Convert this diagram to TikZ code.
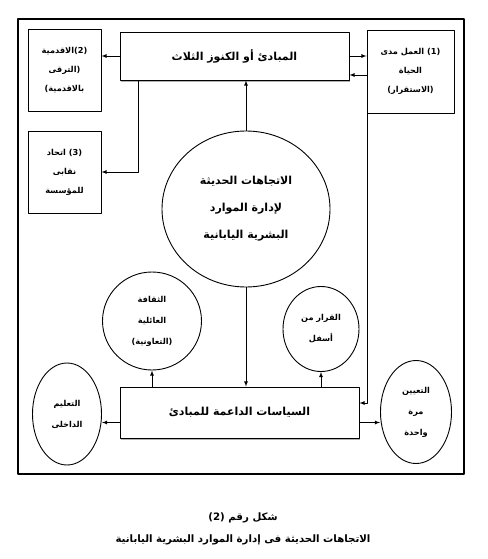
\documentclass[tikz,border=0pt]{standalone}
\usepackage{fontspec}
\usetikzlibrary{shapes.geometric,shadows}
\newfontfamily\arabicfont[Script=Arabic]{DejaVu Sans}
\TeXXeTstate=1
\newcommand{\rl}[1]{\beginR #1\endR}

\begin{document}
\begin{tikzpicture}[x=1pt,y=-1pt,line join=round,>=latex,
    box/.style={draw,line width=0.9pt,inner sep=2pt,align=center,
      font=\arabicfont\bfseries\fontsize{8.2}{19}\selectfont},
    bigbox/.style={box,fill=white,font=\arabicfont\bfseries\fontsize{11}{14}\selectfont,
      drop shadow={shadow xshift=0.6pt,shadow yshift=-1.8pt,fill=black!60}},
    bubble/.style={draw,ellipse,line width=0.9pt,inner sep=0pt,align=center,
      font=\arabicfont\bfseries\fontsize{8.2}{21}\selectfont},
    caption/.style={font=\arabicfont\bfseries\fontsize{10.2}{12}\selectfont},
    arrow/.style={->,line width=0.8pt}]
  \useasboundingbox (0,0) rectangle (487,559);
  \draw[line width=1.1pt] (18,19) rectangle (464,474);

  % upper row
  \node[bigbox,minimum width=229pt,minimum height=48pt] (principles) at (234.5,56)
    {\rl{المبادئ أو الكنوز الثلاث}};
  \node[box,minimum width=73pt,minimum height=82pt] (seniority) at (64.5,70)
    {\rl{(2)الاقدمية}\\\rl{(الترقى}\\\rl{بالاقدمية)}};
  \node[box,minimum width=73pt,minimum height=82pt] (union) at (64.5,172)
    {\rl{(3) اتحاد}\\\rl{نقابى}\\\rl{للمؤسسة}};
  \node[box,minimum width=87pt,minimum height=83pt] (lifetime) at (410.5,71.5)
    {\rl{(1) العمل مدى}\\\rl{الحياة}\\\rl{(الاستقرار)}};

  % centre
  \node[bubble,minimum width=168pt,minimum height=156pt,
    font=\arabicfont\bfseries\fontsize{11}{27}\selectfont] (trend) at (246,209)
    {\rl{الاتجاهات الحديثة}\\\rl{لإدارة الموارد}\\\rl{البشرية اليابانية}};

  % lower row
  \node[bigbox,minimum width=239pt,minimum height=51pt] (policies) at (239.5,412.5)
    {\rl{السياسات الداعمة للمبادئ}};
  \node[bubble,minimum width=99pt,minimum height=98pt] (family) at (152,321)
    {\rl{الثقافة}\\\rl{العائلية}\\\rl{(التعاونية)}};
  \node[bubble,minimum width=76pt,minimum height=85pt] (bottomup) at (321,329)
    {\rl{القرار من}\\\rl{أسفل}};
  \node[bubble,minimum width=69pt,minimum height=102pt] (training) at (67,414)
    {\rl{التعليم}\\\rl{الداخلى}};
  \node[bubble,minimum width=71pt,minimum height=103pt] (hiring) at (416,412)
    {\rl{التعيين}\\\rl{مرة}\\\rl{واحدة}};

  % connectors
  \coordinate (back) at (367,75);
  \coordinate (turn) at (367,403);
  \coordinate (pw) at ([yshift=-10pt]policies.west);
  \coordinate (pe) at ([yshift=-10pt]policies.east);
  \draw[arrow] (trend.north) -- (trend.north |- principles.south);
  \draw[arrow] (principles.west) -- (principles.west -| seniority.east);
  \draw[arrow] ([xshift=19pt]principles.south west) |- (union.east);
  \draw[arrow] (principles.east) -- (principles.east -| lifetime.west);
  \draw[arrow,<->] (principles.east |- back) -- (back) -- (turn) -- (policies.east |- turn);
  \draw[arrow] (trend.south) -- (trend.south |- policies.north);
  \draw[arrow] (policies.north -| family.south) -- (family.south);
  \draw[arrow] (policies.north -| bottomup.south) -- (bottomup.south);
  \draw[arrow] (pw) -- (pw -| training.east);
  \draw[arrow] (pe) -- (pe -| hiring.west);

  % caption
  \node[caption] (figno) at (243,518) {\rl{شكل رقم (2)}};
  \node[caption] (figtitle) at (243,540)
    {\rl{الاتجاهات الحديثة فى إدارة الموارد البشرية اليابانية}};
\end{tikzpicture}
\end{document}
